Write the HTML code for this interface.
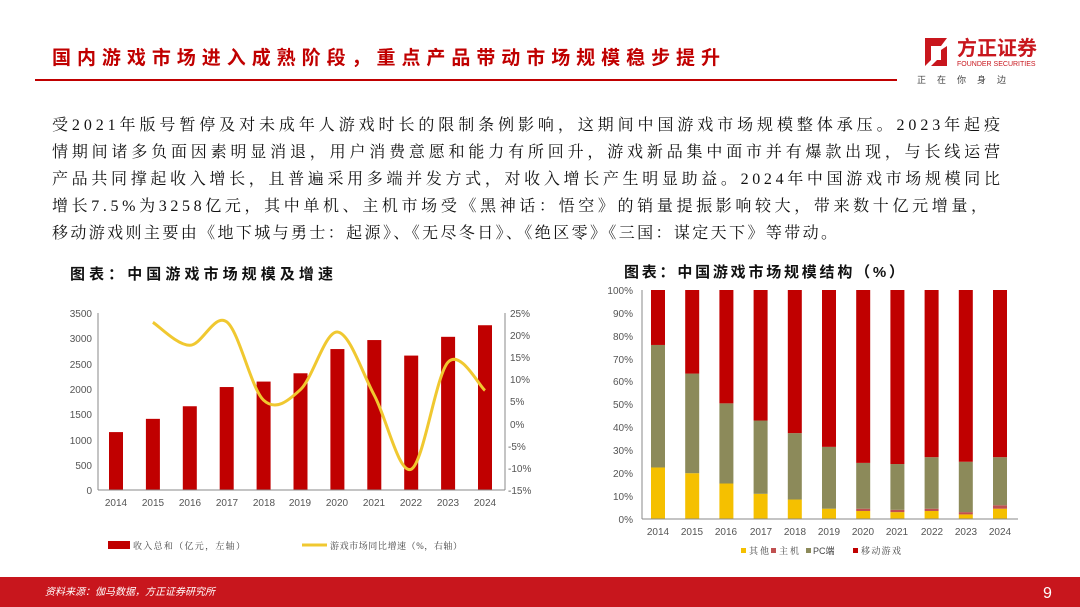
<!DOCTYPE html>
<html><head><meta charset="utf-8"><style>
body{margin:0;width:1080px;height:607px;background:#fff;overflow:hidden;font-family:"Liberation Sans","Noto Sans CJK SC",sans-serif}
svg{display:block}
.t{font-family:"Liberation Sans","Noto Sans CJK SC",sans-serif}
.sf{font-family:"Liberation Serif","Noto Serif CJK SC",serif}
</style></head><body>
<svg id="s" width="1080" height="607" viewBox="0 0 1080 607" class="t">
<text x="52" y="64" font-size="19" font-weight="bold" fill="#c00000" textLength="668" lengthAdjust="spacing">国内游戏市场进入成熟阶段，重点产品带动市场规模稳步提升</text>
<line x1="35" y1="80" x2="897" y2="80" stroke="#c00000" stroke-width="2"/>
<path d="M925 38 h22 l-6 8 h-10 v14 l-6 6z M947 46 v20 h-16 l6 -6 h4 v-10z" fill="#c8161d"/>
<text x="957" y="55" font-size="20" font-weight="bold" fill="#c8161d">方正证券</text>
<text x="957" y="66" font-size="7" fill="#c8161d">FOUNDER SECURITIES</text>
<text x="917" y="83" font-size="9" fill="#444" letter-spacing="11">正在你身边</text>
<g font-size="16" fill="#111" class="sf">
<text x="52" y="130" textLength="948" lengthAdjust="spacing">受2021年版号暂停及对未成年人游戏时长的限制条例影响，这期间中国游戏市场规模整体承压。2023年起疫</text>
<text x="52" y="157" textLength="948" lengthAdjust="spacing">情期间诸多负面因素明显消退，用户消费意愿和能力有所回升，游戏新品集中面市并有爆款出现，与长线运营</text>
<text x="52" y="184" textLength="948" lengthAdjust="spacing">产品共同撑起收入增长，且普遍采用多端并发方式，对收入增长产生明显助益。2024年中国游戏市场规模同比</text>
<text x="52" y="211" textLength="935" lengthAdjust="spacing">增长7.5%为3258亿元，其中单机、主机市场受《黑神话：悟空》的销量提振影响较大，带来数十亿元增量，</text>
<text x="52" y="238" textLength="785" lengthAdjust="spacing">移动游戏则主要由《地下城与勇士：起源》、《无尽冬日》、《绝区零》《三国：谋定天下》等带动。</text>
</g>
<text x="70" y="279" font-size="15" font-weight="bold" fill="#111" textLength="263" lengthAdjust="spacing">图表：中国游戏市场规模及增速</text>
<text x="624" y="277" font-size="15" font-weight="bold" fill="#111" textLength="280" lengthAdjust="spacing">图表：中国游戏市场规模结构（%）</text>
<g font-size="10" fill="#555" text-anchor="end">
<text x="92" y="317">3500</text><text x="92" y="342">3000</text><text x="92" y="368">2500</text><text x="92" y="393">2000</text><text x="92" y="418">1500</text><text x="92" y="444">1000</text><text x="92" y="469">500</text><text x="92" y="494">0</text>
</g>
<g font-size="10" fill="#555">
<text x="510" y="317">25%</text><text x="510" y="339">20%</text><text x="510" y="361">15%</text><text x="510" y="383">10%</text><text x="510" y="405">5%</text><text x="510" y="428">0%</text><text x="508" y="450">-5%</text><text x="508" y="472">-10%</text><text x="508" y="494">-15%</text>
</g>
<g font-size="10" fill="#555" text-anchor="middle">
<text x="116" y="506">2014</text><text x="153" y="506">2015</text><text x="190" y="506">2016</text><text x="227" y="506">2017</text><text x="264" y="506">2018</text><text x="300" y="506">2019</text><text x="337" y="506">2020</text><text x="374" y="506">2021</text><text x="411" y="506">2022</text><text x="448" y="506">2023</text><text x="485" y="506">2024</text>
</g>
<g font-size="10" fill="#555" text-anchor="middle">
<text x="658" y="535">2014</text><text x="692" y="535">2015</text><text x="726" y="535">2016</text><text x="761" y="535">2017</text><text x="795" y="535">2018</text><text x="829" y="535">2019</text><text x="863" y="535">2020</text><text x="897" y="535">2021</text><text x="932" y="535">2022</text><text x="966" y="535">2023</text><text x="1000" y="535">2024</text>
</g>
<g font-size="10" fill="#555" text-anchor="end">
<text x="633" y="294">100%</text><text x="633" y="317">90%</text><text x="633" y="340">80%</text><text x="633" y="363">70%</text><text x="633" y="385">60%</text><text x="633" y="408">50%</text><text x="633" y="431">40%</text><text x="633" y="454">30%</text><text x="633" y="477">20%</text><text x="633" y="500">10%</text><text x="633" y="523">0%</text>
</g>
<g id="bars"></g>
<line x1="98" y1="313" x2="98" y2="490" stroke="#888"/><line x1="98" y1="490" x2="505" y2="490" stroke="#888"/>
<line x1="505" y1="313" x2="505" y2="490" stroke="#888"/>
<line x1="642" y1="290" x2="642" y2="519" stroke="#888"/><line x1="642" y1="519" x2="1018" y2="519" stroke="#888"/>
<rect x="108" y="541" width="22" height="8" fill="#c00000"/>
<text x="133" y="549" font-size="9" fill="#444" class="sf" textLength="112" lengthAdjust="spacing">收入总和（亿元，左轴）</text>
<line x1="302" y1="545" x2="327" y2="545" stroke="#f0c830" stroke-width="3"/>
<text x="330" y="549" font-size="9" fill="#444" class="sf" textLength="132" lengthAdjust="spacing">游戏市场同比增速（%，右轴）</text>
<rect x="741" y="548" width="5" height="5" fill="#f5c000"/><text x="749" y="554" font-size="9" fill="#444" class="sf" textLength="20" lengthAdjust="spacing">其他</text>
<rect x="771" y="548" width="5" height="5" fill="#c05050"/><text x="779" y="554" font-size="9" fill="#444" class="sf" textLength="20" lengthAdjust="spacing">主机</text>
<rect x="806" y="548" width="5" height="5" fill="#8c8a5a"/><text x="813" y="554" font-size="9" fill="#444">PC端</text>
<rect x="853" y="548" width="5" height="5" fill="#c00000"/><text x="861" y="554" font-size="9" fill="#444" class="sf" textLength="40" lengthAdjust="spacing">移动游戏</text>
<rect x="0" y="577" width="1080" height="30" fill="#c8161d"/>
<text x="45" y="595" font-size="10" font-style="italic" fill="#fff">资料来源：伽马数据，方正证券研究所</text>
<text x="1043" y="598" font-size="16" fill="#fff">9</text>
</svg>
<script>
var g=document.getElementById('bars'),h='';
var v=[1145,1407,1656,2036,2144,2308,2787,2965,2658,3029,3258];
v.forEach(function(a,i){var c=116+36.9*i,hh=a*177/3500;h+='<rect x="'+(c-7)+'" y="'+(490-hh)+'" width="14" height="'+hh+'" fill="#c00000"/>';});
var gr=[22.9,17.7,23.0,5.3,7.7,20.7,6.4,-10.3,13.9,7.5];
var P=gr.map(function(a,i){return [116+36.9*(i+1),490-(a+15)*4.425];});
var d='M'+P[0][0]+' '+P[0][1];
for(var i=0;i<P.length-1;i++){var p0=P[Math.max(i-1,0)],p1=P[i],p2=P[i+1],p3=P[Math.min(i+2,P.length-1)];
d+=' C'+(p1[0]+(p2[0]-p0[0])/6)+' '+(p1[1]+(p2[1]-p0[1])/6)+' '+(p2[0]-(p3[0]-p1[0])/6)+' '+(p2[1]-(p3[1]-p1[1])/6)+' '+p2[0]+' '+p2[1];}
var R=[[22.5,0,53.5],[20,0,43.5],[15.5,0,35],[11,0,32],[8.5,0,29],[4.5,0,27],[3.5,1,20],[3,1,20],[3.5,1,22.5],[2,1,22],[4.5,1.5,21]];
var cols=['#f5c000','#c05050','#8c8a5a','#c00000'];
R.forEach(function(r,i){var c=658+34.2*i,y=519,vals=[r[0],r[1],r[2],100-r[0]-r[1]-r[2]];
vals.forEach(function(a,k){var hh=a*2.29;y-=hh;if(hh>0)h+='<rect x="'+(c-7)+'" y="'+y+'" width="14" height="'+hh+'" fill="'+cols[k]+'"/>';});});
h+='<path d="'+d+'" fill="none" stroke="#f0c830" stroke-width="3"/>';
g.innerHTML=h;
</script>
</body></html>
